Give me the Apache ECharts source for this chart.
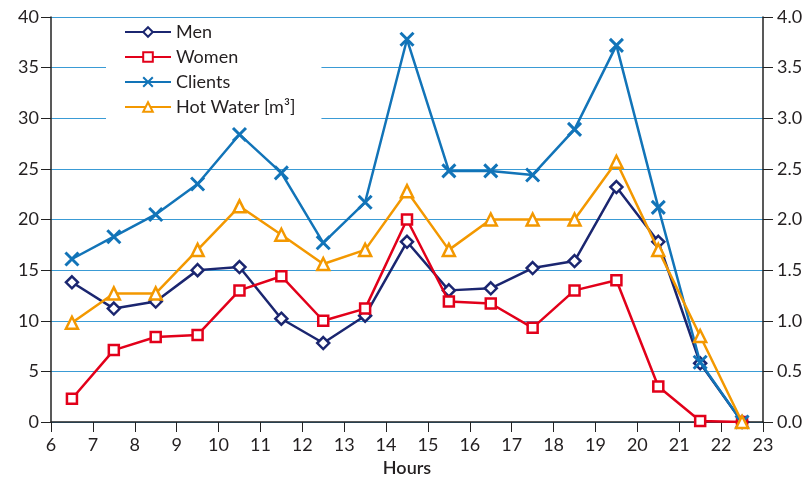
<!DOCTYPE html>
<html>
<head>
<meta charset="utf-8">
<script src="https://cdn.jsdelivr.net/npm/echarts@6/dist/echarts.min.js"></script>
<style>
  html, body { margin: 0; padding: 0; background: #fff; }
  #chart { width: 808px; height: 482px; }
</style>
</head>
<body>
<div id="chart"></div>
<script>
// hour slots are drawn in the middle of each hour
const hours = [6.5, 7.5, 8.5, 9.5, 10.5, 11.5, 12.5, 13.5, 14.5, 15.5, 16.5, 17.5, 18.5, 19.5, 20.5, 21.5, 22.5];
const men = [13.8, 11.2, 11.9, 15.0, 15.3, 10.2, 7.8, 10.5, 17.8, 13.0, 13.2, 15.2, 15.9, 23.2, 17.8, 5.8, 0];
const women = [2.3, 7.1, 8.4, 8.6, 13.0, 14.4, 10.0, 11.2, 20.0, 11.9, 11.7, 9.3, 13.0, 14.0, 3.5, 0.1, 0];
const clients = [16.1, 18.3, 20.5, 23.5, 28.4, 24.6, 17.7, 21.7, 37.8, 24.8, 24.8, 24.4, 28.9, 37.2, 21.2, 5.9, 0];
const hotWater = [0.98, 1.27, 1.27, 1.70, 2.13, 1.85, 1.56, 1.70, 2.28, 1.70, 2.00, 2.00, 2.00, 2.57, 1.70, 0.85, 0];

const font = "Lato";
const textColor = "#231f20";
const pair = (ys) => hours.map((h, i) => [h, ys[i]]);

const chart = echarts.init(document.getElementById("chart"));

chart.setOption({
  animation: false,
  textStyle: { fontFamily: font },
  grid: { left: 51, right: 45, top: 17, bottom: 60 },
  legend: {
    orient: "vertical",
    left: 106,
    top: 20,
    backgroundColor: "#fff",
    padding: [2, 26, 4, 18],
    itemWidth: 46,
    itemHeight: 12,
    itemGap: 5,
    textStyle: { fontSize: 18, color: textColor, fontFamily: font, lineHeight: 20 },
    data: ["Men", "Women", "Clients", "Hot Water [m³]"],
  },
  xAxis: {
    type: "value",
    min: 6,
    max: 23,
    interval: 1,
    name: "Hours",
    nameLocation: "middle",
    nameGap: 36,
    nameTextStyle: { fontSize: 18, fontWeight: 600, color: textColor },
    axisLine: { lineStyle: { color: "#222", width: 1.5 } },
    axisTick: { length: 10, lineStyle: { color: "#222" } },
    axisLabel: { fontSize: 18, color: textColor, margin: 14 },
    splitLine: { show: false },
  },
  yAxis: [
    {
      type: "value",
      min: 0,
      max: 40,
      interval: 5,
      axisLine: { show: true, lineStyle: { color: "#222", width: 1.5 } },
      axisTick: { show: true, length: 10, lineStyle: { color: "#222" } },
      axisLabel: { fontSize: 18, color: textColor, margin: 12 },
      splitLine: { lineStyle: { color: "#3a9bd5", width: 1 } },
    },
    {
      type: "value",
      min: 0,
      max: 4,
      interval: 0.5,
      position: "right",
      axisLine: { show: true, lineStyle: { color: "#222", width: 1.5 } },
      axisTick: { show: true, length: 10, lineStyle: { color: "#222" } },
      axisLabel: {
        fontSize: 18,
        color: textColor,
        margin: 14,
        formatter: (v) => v.toFixed(1),
      },
      splitLine: { show: false },
    },
  ],
  series: [
    {
      name: "Men",
      type: "line",
      data: pair(men),
      symbol: "diamond",
      symbolSize: 12,
      lineStyle: { color: "#1b2670", width: 2.5 },
      itemStyle: { color: "#fff", borderColor: "#1b2670", borderWidth: 2.5 },
      z: 2,
    },
    {
      name: "Women",
      type: "line",
      data: pair(women),
      symbol: "rect",
      symbolSize: 10,
      lineStyle: { color: "#e2001a", width: 2.5 },
      itemStyle: { color: "#fff", borderColor: "#e2001a", borderWidth: 2.5 },
      z: 3,
    },
    {
      name: "Clients",
      type: "line",
      data: pair(clients),
      symbol: "path://M0,0 L10,10 M10,0 L0,10",
      symbolSize: 13,
      lineStyle: { color: "#1274b8", width: 2.5 },
      itemStyle: { color: "none", borderColor: "#1274b8", borderWidth: 3 },
      z: 4,
    },
    {
      name: "Hot Water [m³]",
      type: "line",
      yAxisIndex: 1,
      data: pair(hotWater),
      symbol: "triangle",
      symbolSize: 12,
      lineStyle: { color: "#f39800", width: 2.5 },
      itemStyle: { color: "#fff", borderColor: "#f39800", borderWidth: 2.5 },
      z: 5,
    },
  ],
});
</script>
</body>
</html>
